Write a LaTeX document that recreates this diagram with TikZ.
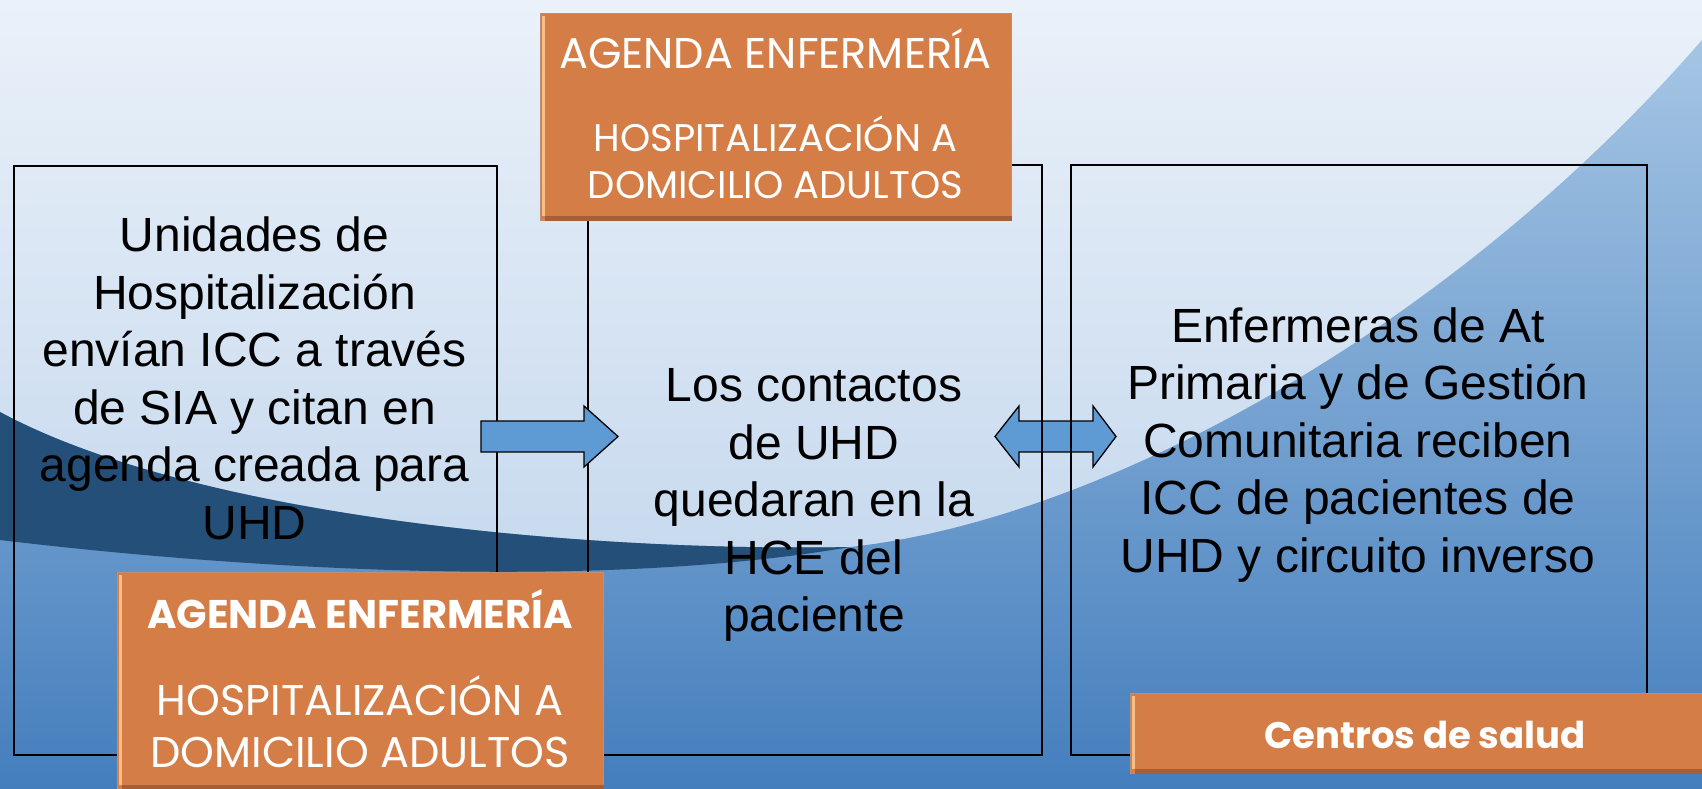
\documentclass[tikz,border=0pt]{standalone}
\usepackage{fontspec}
\setmainfont{Liberation Sans}
\newfontfamily\titlefont{Poppins}

\definecolor{fondoclaro}{RGB}{234,241,249}
\definecolor{fondoclarob}{RGB}{185,208,234}
\definecolor{fondomedio}{RGB}{165,197,228}
\definecolor{fondomediob}{RGB}{68,126,189}
\definecolor{franja}{RGB}{36,79,120}
\definecolor{naranja}{RGB}{213,125,70}
\definecolor{naranjaclaro}{RGB}{248,190,132}
\definecolor{naranjaosc}{RGB}{165,94,54}
\definecolor{flecha}{RGB}{94,154,211}

\begin{document}
\begin{tikzpicture}[x=1pt,y=-1pt,
    caja/.style={draw=black, line width=1.5pt, inner sep=0pt, anchor=north west},
    texto/.style={align=center, inner sep=0pt, font=\fontsize{48}{57.5}\selectfont},
    naranjo/.style={fill=naranja, draw=naranjaosc!70, line width=0.8pt, inner sep=0pt, anchor=north west},
    titulo/.style={text=white, inner sep=0pt, anchor=base},
    flechazo/.style={fill=flecha, draw=black, line width=1.3pt, line join=miter}]

  % fondo
  \useasboundingbox (0,0) rectangle (1702,789);
  \shade[top color=fondoclaro, bottom color=fondoclarob] (0,0) rectangle (1702,789);
  \shade[top color=fondomedio, bottom color=fondomediob]
    (0,412) .. controls (200,520) and (600,552) .. (850,547)
    .. controls (1100,520) and (1450,330) .. (1702,40)
    -- (1702,789) -- (0,789) -- cycle;
  \fill[franja] (0,412) .. controls (200,520) and (600,552) .. (850,547)
    .. controls (600,590) and (250,570) .. (0,540) -- cycle;

  % flecha doble (bajo las cajas)
  \draw[flechazo] (995,436.5) -- (1019,406) -- (1019,421) -- (1093,421) -- (1093,406)
    -- (1116,436.5) -- (1093,467) -- (1093,452) -- (1019,452) -- (1019,467) -- cycle;

  % cajas
  \node[caja, minimum width=483pt, minimum height=589pt] (cajaHosp) at (13,165) {};
  \node[caja, minimum width=454pt, minimum height=590pt] (cajaUHD) at (587,164) {};
  \node[caja, minimum width=576pt, minimum height=590pt] (cajaCentros) at (1070,164) {};

  % flecha simple (sobre las cajas)
  \draw[flechazo] (481,421) -- (584,421) -- (584,406) -- (618,436.5)
    -- (584,467) -- (584,452) -- (481,452) -- cycle;

  \node[texto] (txtHosp) at (254.5,378.5)
    {Unidades de\\Hospitalización\\envían ICC a través\\de SIA y citan en\\agenda creada para\\UHD};
  \node[texto] (txtUHD) at (814,505)
    {Los contactos\\de UHD\\quedaran en la\\HCE del\\paciente};
  \node[texto] (txtCentros) at (1358,445)
    {Enfermeras de At\\Primaria y de Gestión\\Comunitaria reciben\\ICC de pacientes de\\UHD y circuito inverso};

  % agendas
  \node[naranjo, minimum width=471pt, minimum height=207pt] (agendaSup) at (540,13) {};
  \node[naranjo, minimum width=486pt, minimum height=217pt] (agendaInf) at (117,572) {};
  \node[naranjo, minimum width=572pt, minimum height=80pt] (salud) at (1130,693) {};
  \foreach \c in {agendaSup,agendaInf,salud}{
    \fill[naranjaclaro] ([xshift=2pt,yshift=-3pt]\c.north west) rectangle ([xshift=5pt,yshift=5pt]\c.south west);
    \fill[naranjaosc] ([xshift=5pt]\c.south west) rectangle ([yshift=5pt]\c.south east);
  }

  \node[titulo, font=\titlefont\fontsize{43}{43}\selectfont] (tSup1) at (775.5,69) {AGENDA ENFERMERÍA};
  \node[titulo, font=\titlefont\fontsize{38.5}{38.5}\selectfont] (tSup2) at (775.5,152) {HOSPITALIZACIÓN A};
  \node[titulo, font=\titlefont\fontsize{38.5}{38.5}\selectfont] (tSup3) at (775.5,198) {DOMICILIO ADULTOS};
  \node[titulo, font=\titlefont\bfseries\fontsize{40}{40}\selectfont] (tInf1) at (360,628) {AGENDA ENFERMERÍA};
  \node[titulo, font=\titlefont\fontsize{43}{43}\selectfont] (tInf2) at (360,715) {HOSPITALIZACIÓN A};
  \node[titulo, font=\titlefont\fontsize{43}{43}\selectfont] (tInf3) at (360,767) {DOMICILIO ADULTOS};
  \node[titulo, font=\titlefont\bfseries\fontsize{37}{37}\selectfont] (tSalud) at (1425,748) {Centros de salud};
\end{tikzpicture}
\end{document}
